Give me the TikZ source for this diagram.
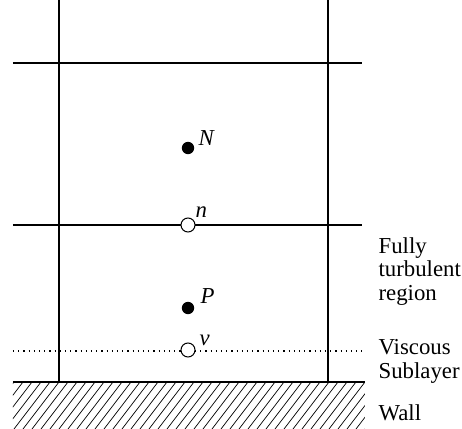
\documentclass[tikz,border=0pt]{standalone}
\usepackage{fontspec}
\setmainfont{Liberation Serif}

\begin{document}
\begin{tikzpicture}[x=0.5pt,y=-0.5pt,line width=0.6pt,
    font=\fontsize{11.4}{11.75}\selectfont,
    solid node/.style={circle,fill=black,inner sep=0pt,minimum size=6.2pt},
    face node/.style={circle,draw=black,line width=0.5pt,fill=white,inner sep=0pt,minimum size=7pt},
    point label/.style={font=\fontsize{11.4}{12}\selectfont\itshape,inner sep=0pt,anchor=base west},
    side label/.style={anchor=base west,inner sep=0pt,align=left}]
  \def\xl{59}     % left cell face
  \def\xr{328}    % right cell face
  \def\xa{13}     % start of horizontal lines
  \def\xb{362}    % end of horizontal lines
  \def\yw{382}    % wall
  \useasboundingbox (0,0) rectangle (462,429);
  % hatching of the wall
  \begin{scope}
    \clip (\xa,\yw) rectangle (365,429);
    \foreach \i in {-40,-31,...,370}{
      \draw[line width=0.35pt] (\i,429) -- (\i+36,\yw);
    }
  \end{scope}
  % grid lines
  \draw (\xl,0) -- (\xl,\yw);
  \draw (\xr,0) -- (\xr,\yw);
  \draw (\xa,63) -- (\xb,63);
  \draw (\xa,225) -- (\xb,225);
  \draw[dotted] (\xa,351) -- (\xb,351);
  \draw[line width=1.3pt] (\xa,\yw) -- (365,\yw);
  % nodes and faces
  \node[solid node] (N) at (188,148) {};
  \node[face node] (n) at (188,225) {};
  \node[solid node] (P) at (188,308) {};
  \node[face node] (v) at (188,350) {};
  \node[point label] at (198,145) {N};
  \node[point label] at (195,217) {n};
  \node[point label] at (200,303) {P};
  \node[point label] at (199,345) {v};
  % side texts (base = last line)
  \node[side label] (turb) at (378,300) {Fully\\turbulent\\region};
  \node[side label] (visc) at (378,378) {Viscous\\Sublayer};
  \node[side label] (wall) at (378,420) {Wall};
\end{tikzpicture}
\end{document}
